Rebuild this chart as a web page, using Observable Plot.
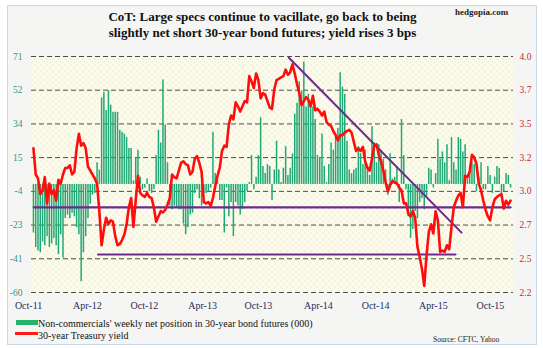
<!DOCTYPE html>
<html><head><meta charset="utf-8">
<script src="https://cdn.jsdelivr.net/npm/d3@7"></script>
<script src="https://cdn.jsdelivr.net/npm/@observablehq/plot@0.6"></script>
<style>
body{margin:0;background:#fff;}
#wrap{position:relative;width:543px;height:348px;overflow:hidden;font-family:"Liberation Serif","Times New Roman",serif;}
#box{position:absolute;left:7px;top:5px;width:528px;height:338px;border:1px solid #c9d7ea;background:#f5f5f3;}
#title{position:absolute;left:0;width:525px;top:9px;text-align:center;font-weight:bold;font-size:13px;line-height:15.5px;color:#111;}
#brand{position:absolute;left:455px;top:7px;font-weight:bold;font-size:9px;color:#222;}
#chart{position:absolute;left:0;top:42px;}
.leg{position:absolute;font-size:10px;color:#111;white-space:nowrap;line-height:11px;}
.sw{position:absolute;}
#src{position:absolute;left:433px;top:335px;font-size:7.5px;color:#222;}
</style></head>
<body>
<div id="wrap">
  <div id="box"></div>
  <div id="title">CoT: Large specs continue to vacillate, go back to being<br>slightly net short 30-year bond futures; yield rises 3 bps</div>
  <div id="brand">hedgopia.com</div>
  <div id="chart"></div>
  <div class="sw" style="left:16px;top:320px;width:22px;height:5px;background:#24b36b"></div>
  <div class="leg" style="left:38px;top:318px">Non-commercials' weekly net position in 30-year bond futures (000)</div>
  <div class="sw" style="left:15px;top:332px;width:23px;height:3px;background:#ff1a1a"></div>
  <div class="leg" style="left:38px;top:330px">30-year Treasury yield</div>
  <div id="src">Source: CFTC, Yahoo</div>
</div>
<script>
// Weekly (Tuesday) report dates, Oct 4 2011 .. Oct 13 2015
const weekDates = d3.utcTuesday.range(new Date("2011-10-04"), new Date("2015-10-14"));

// Non-commercials' net position, 30-year bond futures (000 contracts)
const netPosition = [
 -27,-35,-37,-38,-32,-34,-29,-35,-33,-30,
 -34,-39,-28,-41,-19,-17,-19,-16,-18,-24,
 -28,-54,-38,-29,-19,-11,-6,-5,12,8,
 48,51,41,52,44,40,40,40,30,29,
 28,26,20,20,2,15,19,4,-3,-2,
 3,-4,-5,-3,16,30,23,58,33,12,
 -12,-14,-12,-13,-14,-14,-22,-28,-24,-17,
 -16,-5,-3,-8,-12,-5,-5,-4,-2,29,
 6,2,-9,-9,-27,-2,-18,-10,-29,-10,
 -12,-17,-14,-10,-4,1,16,-3,4,16,
 37,10,6,11,10,-9,8,24,8,1,
 9,21,5,9,17,39,45,57,52,68,
 43,50,45,43,36,16,15,28,10,1,
 11,23,19,27,31,62,54,50,24,8,
 6,8,9,21,17,11,19,10,5,32,
 23,12,22,19,14,8,-6,17,3,4,
 10,-10,36,16,-3,-18,-30,-25,-15,-19,
 -10,-8,-14,-7,9,8,-2,6,25,14,
 18,12,22,2,26,12,8,26,25,18,
 22,3,10,12,11,-4,4,12,-3,-3,
 10,5,-5,4,10,9,-5,-4,6,5,
 -2];

// 30-year Treasury yield (%)
const yield30 = [
 3.30,3.10,3.07,2.95,2.98,3.08,2.88,3.03,2.95,2.98,
 2.90,3.06,3.03,3.10,3.15,3.15,3.17,3.10,3.12,3.30,
 3.41,3.32,3.34,3.30,3.16,3.13,3.10,3.07,3.03,2.82,
 2.56,2.68,2.77,2.72,2.75,2.74,2.63,2.56,2.57,2.60,
 2.64,2.72,2.85,2.92,2.70,2.90,3.09,2.96,2.94,2.93,
 2.96,2.93,2.92,2.85,2.74,2.78,2.82,2.81,2.83,2.87,
 2.92,3.10,3.08,3.07,3.13,3.19,3.20,3.18,3.17,3.10,
 3.12,3.22,3.24,3.19,3.12,2.89,2.88,2.89,2.86,2.92,
 3.01,3.09,3.15,3.28,3.32,3.31,3.48,3.55,3.52,3.65,
 3.62,3.58,3.62,3.66,3.65,3.85,3.81,3.76,3.87,3.82,
 3.68,3.72,3.71,3.66,3.61,3.60,3.75,3.82,3.83,3.84,
 3.85,3.90,3.86,3.88,3.94,3.87,3.79,3.72,3.63,3.66,
 3.69,3.67,3.62,3.70,3.59,3.60,3.58,3.55,3.58,3.50,
 3.48,3.47,3.43,3.40,3.36,3.40,3.40,3.42,3.43,3.44,
 3.42,3.35,3.28,3.30,3.28,3.31,3.20,3.15,3.13,3.22,
 3.32,3.33,3.25,3.20,3.13,3.04,2.97,3.02,3.05,3.04,
 3.03,3.00,2.98,2.88,2.88,2.80,2.78,2.82,2.77,2.55,
 2.47,2.38,2.25,2.48,2.66,2.72,2.65,2.82,2.75,2.51,
 2.52,2.51,2.56,2.53,2.70,2.85,2.90,2.94,2.96,2.85,
 3.09,3.08,3.12,3.25,3.23,3.18,3.03,2.98,2.90,2.83,
 2.78,2.75,2.85,2.91,2.93,2.94,2.95,2.84,2.90,2.87,2.90];

// Hand-drawn trend / support lines (on the yield axis)
const upperSupport = [{date: "2011-10-05", y: 2.85}, {date: "2015-10-13", y: 2.85}];
const lowerSupport = [{date: "2012-04-20", y: 2.49}, {date: "2015-04-26", y: 2.49}];
const downTrend    = [{date: "2013-11-29", y: 3.99}, {date: "2015-05-15", y: 2.657}];

// Axes
const leftTicks  = [-60, -41.29, -22.57, -3.86, 14.86, 33.57, 52.29, 71];
const leftLabels = ["-60", "-41", "-23", "-4", "15", "34", "52", "71"];
const rightLabels = ["2.2", "2.5", "2.7", "3.0", "3.2", "3.5", "3.7", "4.0"];
const yieldDomain = [2.2, 4.0];
const netDomain = [-60, 71];
const xTickDates  = ["2011-09-19","2012-03-18","2012-09-10","2013-03-08","2013-08-27","2014-02-28","2014-08-23","2015-02-17","2015-08-12"];
const xTickLabels = ["Oct-11","Apr-12","Oct-12","Apr-13","Oct-13","Apr-14","Oct-14","Apr-15","Oct-15"];

const toLeft = v => netDomain[0] + (v - yieldDomain[0]) / (yieldDomain[1] - yieldDomain[0]) * (netDomain[1] - netDomain[0]);
const rows = weekDates.map((date, i) => ({date, net: netPosition[i], yld: yield30[i]}));
const parseT = arr => arr.map(d => ({date: new Date(d.date), y: toLeft(d.y)}));
const leftMap = new Map(leftTicks.map((t, i) => [t, leftLabels[i]]));
const rightMap = new Map(leftTicks.map((t, i) => [t, rightLabels[i]]));
const xDates = xTickDates.map(d => new Date(d));
const xMap = new Map(xDates.map((d, i) => [+d, xTickLabels[i]]));

const purple = "#6c2a8e";
const chart = Plot.plot({
  width: 543, height: 272,
  marginLeft: 31, marginRight: 30, marginTop: 14, marginBottom: 22,
  style: {background: "transparent", fontFamily: "Liberation Serif, Times New Roman, serif", fontSize: "9.5px", overflow: "visible"},
  x: {type: "utc", domain: [new Date("2011-09-28"), new Date("2015-10-22")], axis: null},
  y: {domain: netDomain, axis: null},
  marks: [
    Plot.frame({fill: "url(#dots)", stroke: "none"}),
    Plot.gridY(leftTicks, {stroke: "#3a3a3a", strokeOpacity: 0.9, strokeDasharray: "5,3"}),
    Plot.ruleX(rows, {x: "date", y1: 0, y2: "net", stroke: "#22a877", strokeWidth: 1.5}),
    Plot.line(parseT(upperSupport), {x: "date", y: "y", stroke: purple, strokeWidth: 2.2}),
    Plot.line(parseT(lowerSupport), {x: "date", y: "y", stroke: purple, strokeWidth: 2.2}),
    Plot.line(parseT(downTrend), {x: "date", y: "y", stroke: purple, strokeWidth: 2}),
    Plot.line(rows, {x: "date", y: d => toLeft(d.yld), stroke: "#ff0d0d", strokeWidth: 2.6, strokeLinejoin: "round"}),
    Plot.axisY(leftTicks, {anchor: "left", tickSize: 0, tickPadding: 9, label: null, tickFormat: d => leftMap.get(d), fill: "#2a9a88"}),
    Plot.axisY(leftTicks, {anchor: "right", tickSize: 0, tickPadding: 6, label: null, tickFormat: d => rightMap.get(d), fill: "#c8283c"}),
    Plot.axisX(xDates, {anchor: "bottom", tickSize: 0, tickPadding: 9, label: null, tickFormat: d => xMap.get(+d), fill: "#1f2d5a", fontSize: 10})
  ]
});
const defs = document.createElementNS("http://www.w3.org/2000/svg", "defs");
defs.innerHTML = '<pattern id="dots" width="6" height="6" patternUnits="userSpaceOnUse"><rect width="6" height="6" fill="#fbfbee"/><circle cx="1.5" cy="1.5" r="0.7" fill="#e8e0a0"/><circle cx="4.5" cy="4.5" r="0.7" fill="#e8e0a0"/></pattern>';
chart.prepend(defs);
document.getElementById("chart").appendChild(chart);
</script>
</body></html>
